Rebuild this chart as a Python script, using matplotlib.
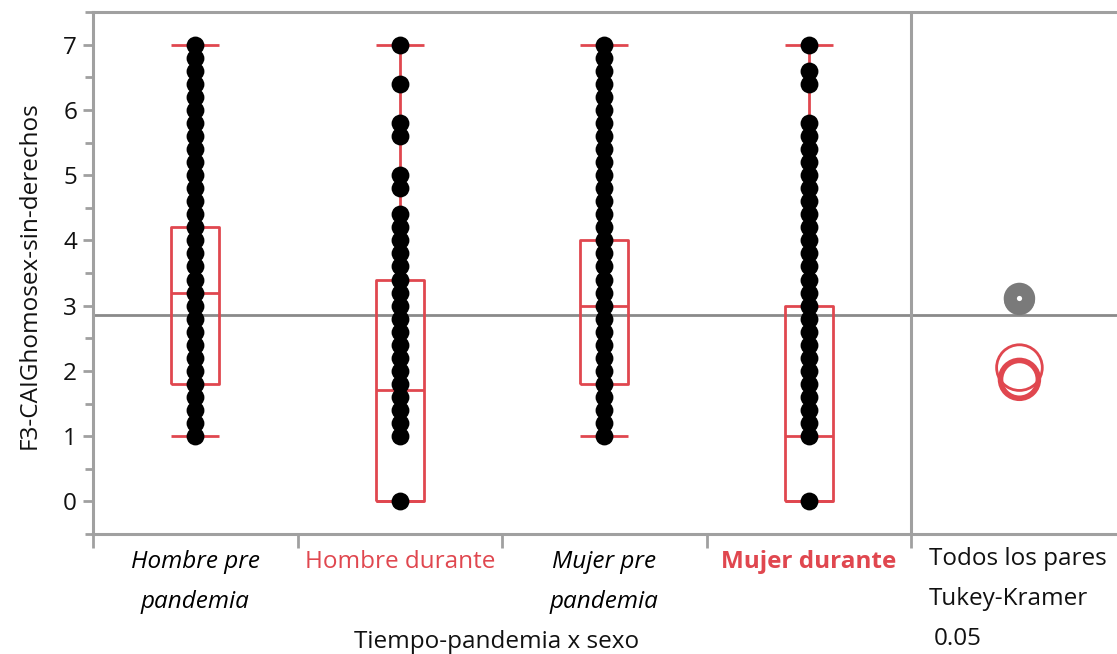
import matplotlib
matplotlib.use("Agg")
import matplotlib.pyplot as plt
import matplotlib.transforms as mtransforms
from matplotlib.patches import Ellipse

# ---------------- data ----------------
categories = ["Hombre pre\npandemia", "Hombre durante", "Mujer pre\npandemia", "Mujer durante"]

hombre_pre = [1.0, 1.2, 1.4, 1.6, 1.8, 2.0, 2.2, 2.4, 2.6, 2.8, 3.0, 3.2, 3.4, 3.6, 3.8, 4.0,
              4.2, 4.4, 4.6, 4.8, 5.0, 5.2, 5.4, 5.6, 5.8, 6.0, 6.2, 6.4, 6.6, 6.8, 7.0]
hombre_durante = [0.0, 1.0, 1.2, 1.4, 1.6, 1.8, 2.0, 2.2, 2.4, 2.6, 2.8, 3.0, 3.2, 3.4, 3.6,
                  3.8, 4.0, 4.2, 4.4, 4.8, 5.0, 5.6, 5.8, 6.4, 7.0]
mujer_pre = [1.0, 1.2, 1.4, 1.6, 1.8, 2.0, 2.2, 2.4, 2.6, 2.8, 3.0, 3.2, 3.4, 3.6, 3.8, 4.0,
             4.2, 4.4, 4.6, 4.8, 5.0, 5.2, 5.4, 5.6, 5.8, 6.0, 6.2, 6.4, 6.6, 6.8, 7.0]
mujer_durante = [0.0, 1.0, 1.2, 1.4, 1.6, 1.8, 2.0, 2.2, 2.4, 2.6, 2.8, 3.0, 3.2, 3.4, 3.6,
                 3.8, 4.0, 4.2, 4.4, 4.6, 4.8, 5.0, 5.2, 5.4, 5.6, 5.8, 6.4, 6.6, 7.0]
groups = [hombre_pre, hombre_durante, mujer_pre, mujer_durante]

box_q1 = [1.8, 0.0, 1.8, 0.0]
box_med = [3.2, 1.7, 3.0, 1.0]
box_q3 = [4.2, 3.4, 4.0, 3.0]
whisk_lo = [1.0, 0.0, 1.0, 0.0]
whisk_hi = [7.0, 7.0, 7.0, 7.0]

grand_mean = 2.85

# comparison circles (Tukey-Kramer)
circle_means = [3.11, 3.09, 2.05, 1.87]
circle_radii = [0.225, 0.22, 0.35, 0.29]
circle_colors = ["#7a7a7a", "#7a7a7a", "#e0474f", "#e0474f"]
circle_filled = [True, True, False, False]
circle_lw = [1.5, 1.5, 2.0, 4.0]

y_ticks = [0, 1, 2, 3, 4, 5, 6, 7]

# ---------------- style ----------------
RED = "#e0474f"
GRAY = "#a0a0a0"
FS = 17.5
plt.rcParams['font.family'] = ['Open Sans', 'DejaVu Sans']

W, H = 1117, 654
fig = plt.figure(figsize=(W / 100, H / 100), dpi=100)
L, R, T, B = 93, 1117, 12, 534
ax = fig.add_axes([L / W, 1 - B / H, (R - L) / W, (B - T) / H])

ax.set_xlim(-0.5, 4.507)
ax.set_ylim(-0.5, 7.5)

# grand mean line
ax.axhline(grand_mean, color="#8a8a8a", lw=2, zorder=1)
# divider between main plot and comparison panel
ax.axvline(3.5, color=GRAY, lw=2.2, zorder=1)

# boxes
stats = []
for i in range(len(categories)):
    stats.append(dict(med=box_med[i], q1=box_q1[i], q3=box_q3[i],
                      whislo=whisk_lo[i], whishi=whisk_hi[i], fliers=[]))
lineprops = dict(color=RED, linewidth=2, solid_capstyle='butt')
ax.bxp(stats, positions=list(range(len(categories))), widths=0.235, capwidths=0.235,
       showfliers=False, boxprops=lineprops, whiskerprops=lineprops,
       capprops=lineprops, medianprops=lineprops, manage_ticks=False, zorder=2)

# points
for i, vals in enumerate(groups):
    ax.scatter([i] * len(vals), vals, s=165, color="black", zorder=3, linewidths=0)

# comparison circles
fig.canvas.draw()
bb = ax.get_window_extent()
px_x = bb.width / (ax.get_xlim()[1] - ax.get_xlim()[0])
px_y = bb.height / (ax.get_ylim()[1] - ax.get_ylim()[0])
cx = 4.03
for m, r, c, f, lw in zip(circle_means, circle_radii, circle_colors, circle_filled, circle_lw):
    e = Ellipse((cx, m), width=2 * r * px_y / px_x, height=2 * r,
                facecolor=c if f else "none", edgecolor=c, lw=lw, zorder=4)
    ax.add_patch(e)
ax.scatter([cx], [circle_means[0]], s=14, color="white", zorder=5, linewidths=0)

# spines
for s in ["left", "bottom", "top"]:
    ax.spines[s].set_color(GRAY)
    ax.spines[s].set_linewidth(2.2)
ax.spines["right"].set_visible(False)

ax.set_yticks(y_ticks)
ax.set_yticks([-0.5, 0.5, 1.5, 2.5, 3.5, 4.5, 5.5, 6.5, 7.5], minor=True)
ax.tick_params(axis="y", which="major", length=7, width=2, color=GRAY,
               labelsize=FS, labelcolor="#111111", pad=4.5)
ax.tick_params(axis="y", which="minor", length=6, width=2, color=GRAY)

ax.set_xticks([-0.5, 0.5, 1.5, 2.5, 3.5])
ax.set_xticklabels([])
ax.tick_params(axis="x", which="major", length=10, width=2, color=GRAY)

# category labels
tr = mtransforms.blended_transform_factory(ax.transData, fig.transFigure)
label_styles = [
    dict(color="black", style="italic", weight="normal"),
    dict(color=RED, style="normal", weight="normal"),
    dict(color="black", style="italic", weight="normal"),
    dict(color=RED, style="normal", weight="bold"),
]
for i, (lab, st) in enumerate(zip(categories, label_styles)):
    for j, line in enumerate(lab.split("\n")):
        ypx = 568 + j * 40
        ax.text(i, 1 - ypx / H, line, transform=tr, ha="center", va="baseline",
                fontsize=FS, color=st["color"], fontstyle=st["style"],
                fontweight=st["weight"])

fig.text(497 / W, 1 - 648 / H, "Tiempo-pandemia x sexo", ha="center", va="baseline",
         fontsize=FS, color="#111111")
fig.text(30 / W, 1 - 275 / H, "F3-CAIGhomosex-sin-derechos", ha="center", va="center",
         rotation=90, fontsize=FS, color="#111111")

fig.text(929 / W, 1 - 565 / H, "Todos los pares", ha="left", va="baseline", fontsize=FS, color="#111111")
fig.text(929 / W, 1 - 605 / H, "Tukey-Kramer", ha="left", va="baseline", fontsize=FS, color="#111111")
fig.text(934 / W, 1 - 645 / H, "0.05", ha="left", va="baseline", fontsize=FS, color="#111111")

fig.savefig("out.png", dpi=100)
